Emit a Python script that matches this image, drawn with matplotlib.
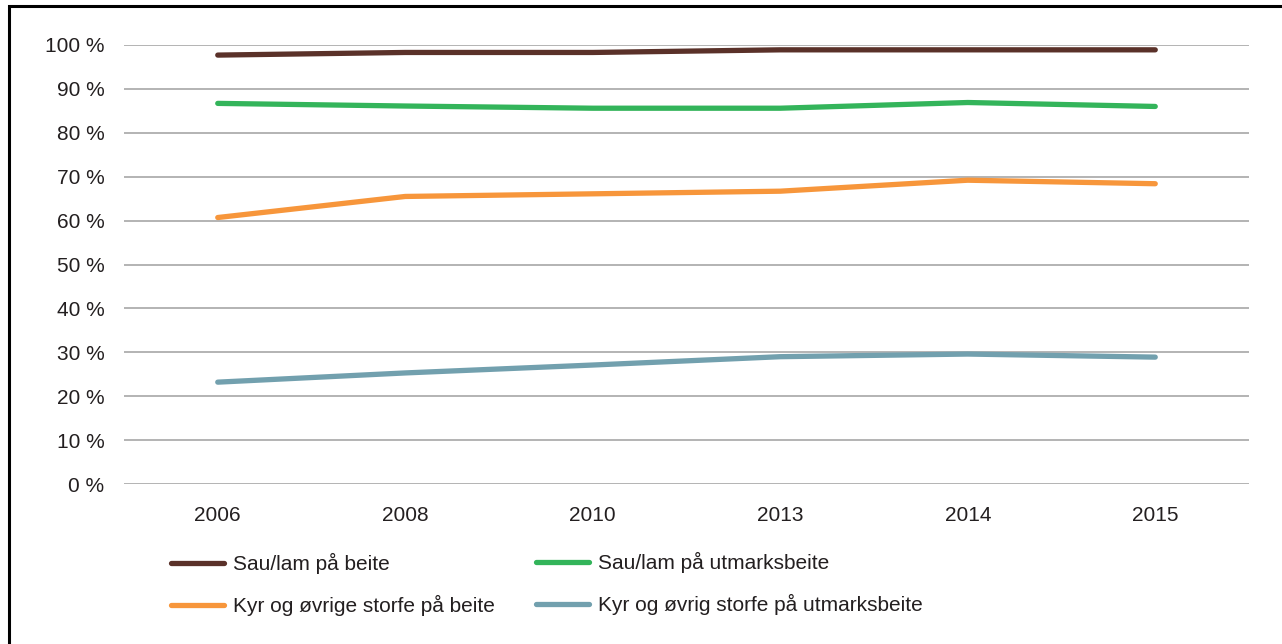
import matplotlib
matplotlib.use('Agg')
import matplotlib.pyplot as plt
from matplotlib.patches import Rectangle

# årstall og andel dyr på beite (%)
years = ['2006', '2008', '2010', '2013', '2014', '2015']
sau_beite = [97.7, 98.3, 98.3, 98.9, 98.9, 98.9]
sau_utmark = [86.7, 86.1, 85.6, 85.6, 86.9, 86.0]
kyr_beite = [60.7, 65.5, 66.1, 66.7, 69.2, 68.4]
kyr_utmark = [23.2, 25.3, 27.1, 29.0, 29.6, 28.9]

labels = ['Sau/lam på beite', 'Sau/lam på utmarksbeite',
          'Kyr og øvrige storfe på beite', 'Kyr og øvrig storfe på utmarksbeite']
colors = ['#5a3129', '#33b45a', '#f7963b', '#72a0ae']

plt.rcParams['font.family'] = ['Liberation Sans', 'DejaVu Sans']
plt.rcParams['font.size'] = 15

fig = plt.figure(figsize=(12.82, 6.44), dpi=100)
ax = fig.add_axes([124 / 1282, 1 - 484 / 644, 1125 / 1282, 439 / 644])

x = range(len(years))
series = [sau_beite, sau_utmark, kyr_beite, kyr_utmark]
lines = []
for vals, c, lab in zip(series, colors, labels):
    ln, = ax.plot(x, vals, color=c, lw=3.8, solid_capstyle='round', label=lab, zorder=3)
    lines.append(ln)

ax.set_xlim(-0.5, len(years) - 0.5)
ax.set_ylim(0, 100)
ax.set_yticks(range(0, 101, 10))
ax.set_yticklabels([f'{v} %' for v in range(0, 101, 10)], color='#231f20')
ax.set_xticks(list(x))
ax.set_xticklabels(years, color='#231f20')
ax.tick_params(axis='y', length=0, pad=14)
ax.tick_params(axis='x', length=0, pad=16)
ax.grid(axis='y', color='#b3b3b3', lw=1.4)
ax.set_axisbelow(True)
for s in ax.spines.values():
    s.set_visible(False)

# legende i to kolonner
leg_kw = dict(frameon=False, handlelength=2.55, handletextpad=0.43, labelspacing=1.0,
              fontsize=15, borderaxespad=0, borderpad=0)
leg1 = fig.legend([lines[0], lines[2]], [labels[0], labels[2]],
                  loc='upper left', bbox_to_anchor=(171 / 1282, 1 - 553 / 644), **leg_kw)
leg2 = fig.legend([lines[1], lines[3]], [labels[1], labels[3]],
                  loc='upper left', bbox_to_anchor=(536 / 1282, 1 - 552 / 644), **leg_kw)
for t in leg1.get_texts() + leg2.get_texts():
    t.set_color('#231f20')

# ramme rundt figuren
fig.patches.append(Rectangle((9 / 1282, -0.1), 1.2, 1 - 6 / 644 + 0.1,
                             transform=fig.transFigure, fill=False,
                             edgecolor='black', lw=2.2))

fig.savefig('out.png', dpi=100)
